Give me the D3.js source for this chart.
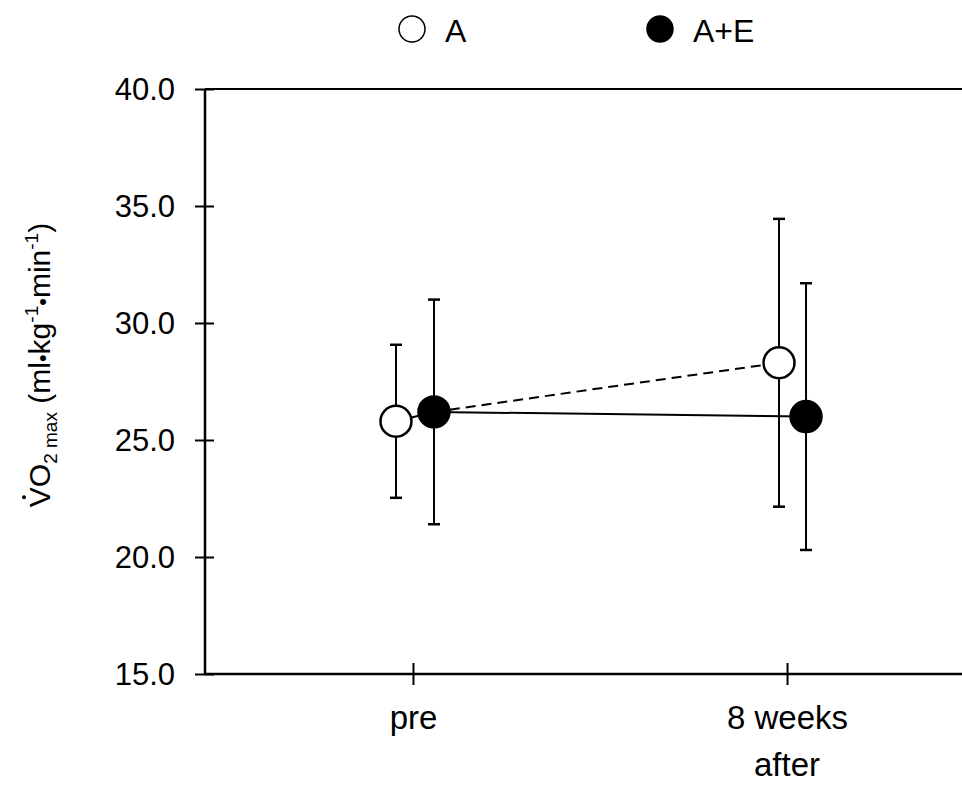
<!DOCTYPE html>
<html>
<head>
<meta charset="utf-8">
<style>
body { margin: 0; background: #fff; }
svg { display: block; font-family: "Liberation Sans", Arial, sans-serif; }
.axis text { font-size: 31px; fill: #000; }
.axis line { stroke: #000; stroke-width: 2; }
</style>
</head>
<body>
<svg width="962" height="785"></svg>
<script src="https://cdn.jsdelivr.net/npm/d3@7"></script>
<script>
// chart data
var categories = ["pre", "8 weeks"];
var seriesNames = ["A", "A+E"];
var meanA = [25.8, 28.3];
var sdA = [3.27, 6.15];
var meanAE = [26.2, 26.0];
var sdAE = [4.8, 5.7];
var yTicks = [15, 20, 25, 30, 35, 40];

var svg = d3.select("svg"),
    width = +svg.attr("width"),
    height = +svg.attr("height");

var plotLeft = 205, plotTop = 89, plotBottom = 674;

var y = d3.scaleLinear().domain([15, 40]).range([plotBottom, plotTop]);
var x = d3.scalePoint().domain(categories).range([plotLeft, 995]).padding(0.556);

// markers are pushed sideways so the error bars don't overlap
var offsets = { "A": [-17, -8], "A+E": [21, 19] };

var series = [
  { name: "A", mean: meanA, sd: sdA, fill: "#fff" },
  { name: "A+E", mean: meanAE, sd: sdAE, fill: "#000" }
];

function px(s, i) { return x(categories[i]) + offsets[s.name][i]; }
function py(s, i) { return y(s.mean[i]); }

// frame lines
svg.append("line")
    .attr("x1", plotLeft).attr("x2", width)
    .attr("y1", plotTop).attr("y2", plotTop)
    .attr("stroke", "#000").attr("stroke-width", 2);
svg.append("line")
    .attr("x1", plotLeft).attr("x2", width)
    .attr("y1", plotBottom).attr("y2", plotBottom)
    .attr("stroke", "#000").attr("stroke-width", 2.5);
svg.append("line")
    .attr("x1", plotLeft).attr("x2", plotLeft)
    .attr("y1", plotTop).attr("y2", plotBottom)
    .attr("stroke", "#000").attr("stroke-width", 2.5);

// y axis
var yAxis = svg.append("g")
    .attr("class", "axis")
    .attr("transform", "translate(" + plotLeft + ",0)")
    .call(d3.axisLeft(y).tickValues(yTicks).tickFormat(d3.format(".1f"))
      .tickSize(10).tickPadding(20));
yAxis.select(".domain").remove();
yAxis.selectAll(".tick line").attr("x1", 9);
yAxis.selectAll("text").attr("dy", "0.35em").style("font-family", "Liberation Sans, Arial, sans-serif");

// x axis
var xAxis = svg.append("g")
    .attr("class", "axis")
    .attr("transform", "translate(0," + plotBottom + ")")
    .call(d3.axisBottom(x).tickSize(11).tickPadding(21));
xAxis.select(".domain").remove();
xAxis.selectAll(".tick line").attr("y1", -11);
xAxis.selectAll("text")
    .style("font-family", "Liberation Sans, Arial, sans-serif")
    .style("font-size", "33px");

svg.append("text")
    .attr("x", x("8 weeks"))
    .attr("y", 776)
    .attr("text-anchor", "middle")
    .style("font-size", "33px")
    .text("after");

// connecting lines
var line = d3.line().x(function(d) { return d[0]; }).y(function(d) { return d[1]; });
var sA = series[0], sE = series[1];
svg.append("path")
    .attr("d", line([[px(sA, 0), py(sA, 0)], [px(sE, 0), py(sE, 0)], [px(sE, 1), py(sE, 1)]]))
    .attr("fill", "none").attr("stroke", "#000").attr("stroke-width", 2);
svg.append("path")
    .attr("d", line([[px(sE, 0), py(sE, 0)], [px(sA, 1), py(sA, 1)]]))
    .attr("fill", "none").attr("stroke", "#000").attr("stroke-width", 2)
    .attr("stroke-dasharray", "10,6");

// error bars
series.forEach(function(s) {
  var g = svg.append("g");
  categories.forEach(function(c, i) {
    var cx = px(s, i),
        hi = y(s.mean[i] + s.sd[i]),
        lo = y(s.mean[i] - s.sd[i]);
    g.append("line").attr("x1", cx).attr("x2", cx).attr("y1", hi).attr("y2", lo)
      .attr("stroke", "#000").attr("stroke-width", 2);
    [hi, lo].forEach(function(v) {
      g.append("line").attr("x1", cx - 6).attr("x2", cx + 6).attr("y1", v).attr("y2", v)
        .attr("stroke", "#000").attr("stroke-width", 2.5);
    });
  });
});

// markers
series.forEach(function(s) {
  svg.append("g").selectAll("circle")
    .data(categories)
    .enter().append("circle")
    .attr("cx", function(d, i) { return px(s, i); })
    .attr("cy", function(d, i) { return py(s, i); })
    .attr("r", 15.5)
    .attr("fill", s.fill)
    .attr("stroke", "#000")
    .attr("stroke-width", 2.5);
});

// legend
var legendX = [412, 660];
series.forEach(function(s, i) {
  svg.append("circle")
    .attr("cx", legendX[i]).attr("cy", 29).attr("r", 13)
    .attr("fill", s.fill).attr("stroke", "#000").attr("stroke-width", 1.5);
  svg.append("text")
    .attr("x", legendX[i] + 33).attr("y", 42)
    .style("font-size", "32px")
    .text(seriesNames[i]);
});

// y axis title
var title = svg.append("text")
    .attr("transform", "translate(50,365) rotate(-90)")
    .attr("text-anchor", "middle")
    .style("font-size", "30px");
title.append("tspan").text("VO");
title.append("tspan").attr("dy", 7).style("font-size", "19px").text("2 max");
title.append("tspan").attr("dy", -7).text(" (ml");
title.append("tspan").style("font-size", "22px").text("\u2022");
title.append("tspan").text("kg");
title.append("tspan").attr("dy", -12).style("font-size", "19px").text("-1");
title.append("tspan").attr("dy", 12).style("font-size", "22px").text("\u2022");
title.append("tspan").text("min");
title.append("tspan").attr("dy", -12).style("font-size", "19px").text("-1");
title.append("tspan").attr("dy", 12).text(")");

// dot over the V
var vBox = title.node().getBBox();
var vLen = title.node().getSubStringLength(0, 1);
svg.append("circle")
    .attr("cx", 50 - 26)
    .attr("cy", 365 + vBox.width / 2 - vLen / 2)
    .attr("r", 2)
    .attr("fill", "#000");
</script>
</body>
</html>
